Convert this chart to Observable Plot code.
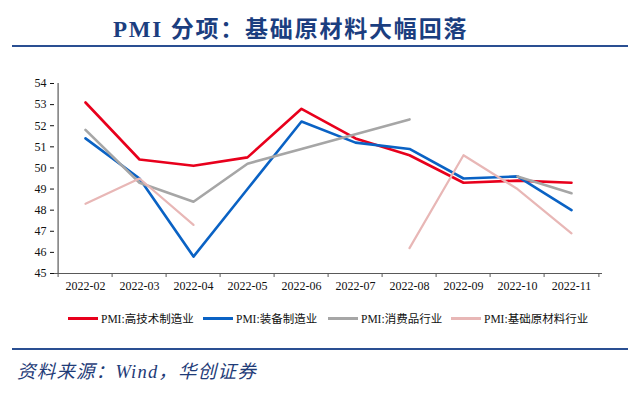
<!DOCTYPE html>
<html>
<head>
<meta charset="utf-8">
<script src="https://cdn.jsdelivr.net/npm/d3@7"></script>
<script src="https://cdn.jsdelivr.net/npm/@observablehq/plot@0.6"></script>
<style>
  body { margin: 0; background: #fff; }
  #wrap { position: relative; width: 640px; height: 396px; background: #fff; overflow: hidden; }
  #title { position: absolute; left: 113px; top: 10px; font-family: "Liberation Serif", "Noto Sans CJK SC", serif; font-weight: bold; font-size: 23px; color: #1b3e7f; letter-spacing: 1.8px; white-space: nowrap; }
  .hr { position: absolute; left: 12px; width: 616px; height: 2px; background: #2a4f92; }
  #chart { position: absolute; left: 0; top: 60px; }
  #legend { position: absolute; left: 0; top: 310px; width: 640px; height: 16px; }
  .item { position: absolute; top: 0; display: flex; align-items: center; font-family: "Liberation Serif", "Noto Sans CJK SC", serif; font-size: 11.5px; color: #111; white-space: nowrap; }
  .sw { display: inline-block; width: 30px; height: 3px; margin-right: 3px; }
  #source { position: absolute; left: 17px; top: 357px; font-family: "Liberation Serif", "Noto Sans CJK SC", serif; font-style: italic; font-size: 18.5px; color: #1f3c78; white-space: nowrap; letter-spacing: 1.2px; }
</style>
</head>
<body>
<div id="wrap">
  <div id="title">PMI 分项：基础原材料大幅回落</div>
  <div class="hr" style="top:45px"></div>
  <div id="chart"></div>
  <div id="legend"></div>
  <div class="hr" style="top:348px"></div>
  <div id="source">资料来源：Wind，华创证券</div>
</div>
<script>
const months = ["2022-02","2022-03","2022-04","2022-05","2022-06","2022-07","2022-08","2022-09","2022-10","2022-11"];
const hiTech    = [53.1, 50.4, 50.1, 50.5, 52.8, 51.4, 50.6, 49.3, 49.4, 49.3];
const equipment = [51.4, 49.5, 45.8, 49.0, 52.2, 51.2, 50.9, 49.5, 49.6, 48.0];
const consumer  = [51.8, 49.3, 48.4, 50.2, 50.9, 51.6, 52.3, null, 49.6, 48.8];
const rawMat    = [48.3, 49.5, 47.3, null, null, null, 46.2, 50.6, 49.0, 46.9];
const yTicks = [45, 46, 47, 48, 49, 50, 51, 52, 53, 54];
const seriesNames = ["PMI:高技术制造业", "PMI:装备制造业", "PMI:消费品行业", "PMI:基础原材料行业"];
const seriesColors = ["#e8001c", "#0a62c4", "#a6a6a6", "#e8b7b6"];
const seriesValues = [hiTech, equipment, consumer, rawMat];

const W = 640, H = 240, ML = 54, MR = 38, MT = 23, MB = 27;
const step = (W - ML - MR) / months.length;

const rows = seriesValues.map(vals => months.map((m, i) => ({month: m, value: vals[i]})));
const axisColor = "#595959";

const chart = Plot.plot({
  width: W, height: H,
  marginLeft: ML, marginRight: MR, marginTop: MT, marginBottom: MB,
  style: {fontFamily: "Liberation Serif, Noto Sans CJK SC, serif", fontSize: "12px", color: "#111", background: "#fff"},
  x: {type: "point", domain: months, padding: 0.5, tickSize: 0, tickPadding: 8, label: null},
  y: {domain: [45, 54], ticks: yTicks, tickSize: 4, tickPadding: 4, tickFormat: d => String(d), label: null},
  marks: [
    Plot.ruleY([45], {stroke: axisColor, strokeWidth: 1.2}),
    Plot.ruleX([months[0]], {dx: -step / 2, y1: 45, y2: 54, stroke: axisColor, strokeWidth: 1.2}),
    Plot.ruleX(months, {x: d => d, dx: -step / 2, y1: 45, y2: 45, insetBottom: -4, stroke: axisColor}),
    Plot.ruleX([months[months.length - 1]], {x: d => d, dx: step / 2, y1: 45, y2: 45, insetBottom: -4, stroke: axisColor}),
    ...rows.map((r, k) => Plot.lineY(r, {x: "month", y: "value", stroke: seriesColors[k], strokeWidth: k === 3 ? 2.2 : 2.6}))
  ]
});
document.getElementById("chart").appendChild(chart);

const legendLeft = [68, 203, 328, 451];
const legend = document.getElementById("legend");
seriesNames.forEach((n, k) => {
  const it = document.createElement("div");
  it.className = "item";
  it.style.left = legendLeft[k] + "px";
  it.innerHTML = `<span class="sw" style="background:${seriesColors[k]}"></span><span>${n}</span>`;
  legend.appendChild(it);
});
</script>
</body>
</html>
